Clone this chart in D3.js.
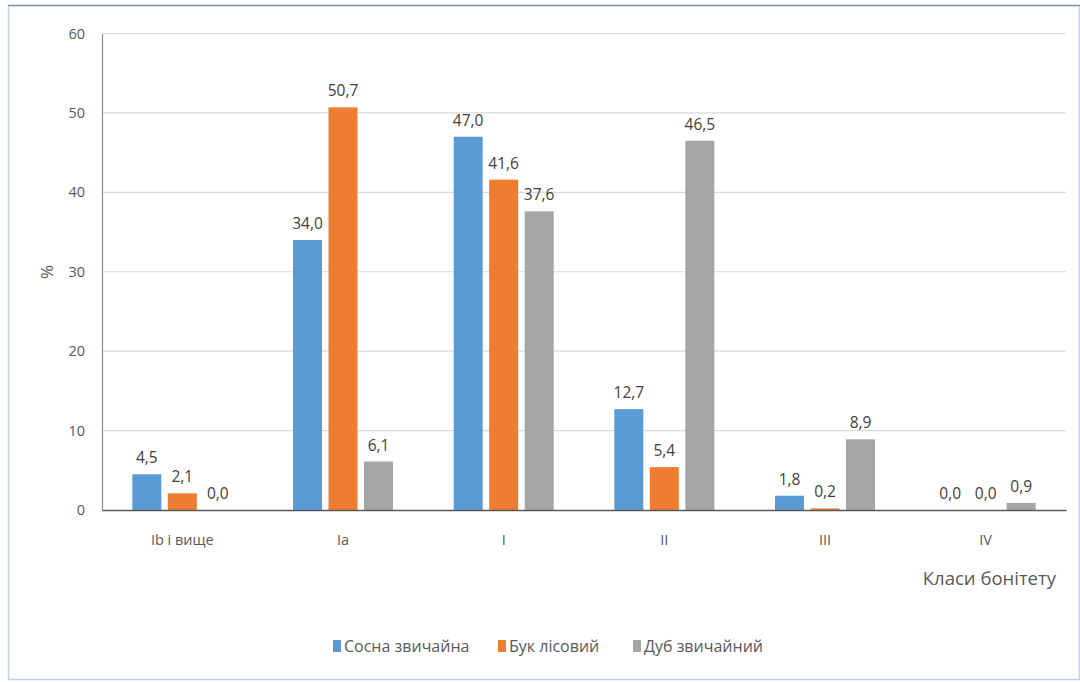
<!DOCTYPE html>
<html><head><meta charset="utf-8">
<script src="https://cdn.jsdelivr.net/npm/d3@7"></script>
<style>body{margin:0;background:#fff;} svg{display:block;}</style>
</head><body>
<script>
const categories = ["Ib і вище", "Ia", "I", "II", "III", "IV"];
const seriesNames = ["Сосна звичайна", "Бук лісовий", "Дуб звичайний"];
const sosna = [4.5, 34.0, 47.0, 12.7, 1.8, 0.0];
const buk = [2.1, 50.7, 41.6, 5.4, 0.2, 0.0];
const dub = [0.0, 6.1, 37.6, 46.5, 8.9, 0.9];
const yTicks = [0, 10, 20, 30, 40, 50, 60];
const colors = ["#5B9BD5", "#ED7D31", "#A5A5A5"];

(function () {
const W = 1080, H = 682;
const svg = d3.select("body").append("svg").attr("width", W).attr("height", H);
const font = "'Open Sans', sans-serif";

// frame
svg.append("rect").attr("x", 8.5).attr("y", 5.5).attr("width", W - 9).attr("height", H - 8)
  .attr("fill", "#fff").attr("stroke", "#b9d3ea").attr("stroke-width", 1.5);
svg.append("line").attr("x1", 8).attr("x2", W).attr("y1", 5.5).attr("y2", 5.5)
  .attr("stroke", "#8496ab").attr("stroke-width", 1.5);

const pLeft = 102, pRight = 1066, pTop = 33.5, pBottom = 510;
const x = d3.scaleBand().domain(categories).range([pLeft, pRight]);
const y = d3.scaleLinear().domain([0, 60]).range([pBottom, pTop]);
const series = [sosna, buk, dub];
const barW = 29, step = 35.5;

// gridlines
svg.append("g").selectAll("line").data(yTicks.filter(d => d > 0)).join("line")
  .attr("x1", pLeft).attr("x2", pRight).attr("y1", d => y(d)).attr("y2", d => y(d))
  .attr("stroke", "#d9d9d9").attr("stroke-width", 1.2);

// y axis
const yAxis = svg.append("g").attr("transform", `translate(${pLeft},0)`)
  .call(d3.axisLeft(y).tickValues(yTicks).tickSize(0).tickPadding(17));
yAxis.select(".domain").attr("stroke", "#8c8c8c").attr("stroke-width", 1.2);
yAxis.selectAll("text").attr("font-family", font).attr("font-size", 14.5).attr("fill", "#595959");

// bars
series.forEach((vals, si) => {
  svg.append("g").selectAll("rect").data(vals).join("rect")
    .attr("x", (d, i) => x(categories[i]) + x.bandwidth() / 2 + (si - 1) * step - barW / 2)
    .attr("width", barW)
    .attr("y", d => y(d))
    .attr("height", d => pBottom - y(d))
    .attr("fill", colors[si]);
  svg.append("g").selectAll("text").data(vals).join("text")
    .attr("x", (d, i) => x(categories[i]) + x.bandwidth() / 2 + (si - 1) * step)
    .attr("y", d => y(d) - 11)
    .attr("text-anchor", "middle")
    .attr("font-family", font).attr("font-size", 15.5).attr("fill", "#404040")
    .text(d => d.toFixed(1).replace(".", ","));
});

// x axis
const xAxis = svg.append("g").attr("transform", `translate(0,${pBottom})`)
  .call(d3.axisBottom(x).tickSize(0).tickPadding(25));
xAxis.select(".domain").attr("stroke", "#595959").attr("stroke-width", 1.3);
xAxis.selectAll("text").attr("font-family", font).attr("font-size", 14.5).attr("fill", "#595959");

// axis titles
svg.append("text").attr("transform", "translate(53,272) rotate(-90)")
  .attr("text-anchor", "middle").attr("font-family", font).attr("font-size", 17).attr("fill", "#595959").text("%");
svg.append("text").attr("x", 1056).attr("y", 585).attr("text-anchor", "end")
  .attr("font-family", font).attr("font-size", 18.5).attr("fill", "#595959").text("Класи бонітету");

// legend
const legendX = [333, 498, 633];
const lg = svg.append("g").selectAll("g").data(seriesNames).join("g")
  .attr("transform", (d, i) => `translate(${legendX[i]},646)`);
lg.append("rect").attr("x", 0).attr("y", -6).attr("width", 8).attr("height", 12).attr("fill", (d, i) => colors[i]);
lg.append("text").attr("x", 11).attr("y", 6).attr("font-family", font).attr("font-size", 16)
  .attr("fill", "#595959").text(d => d);
})();
</script>
</body></html>
